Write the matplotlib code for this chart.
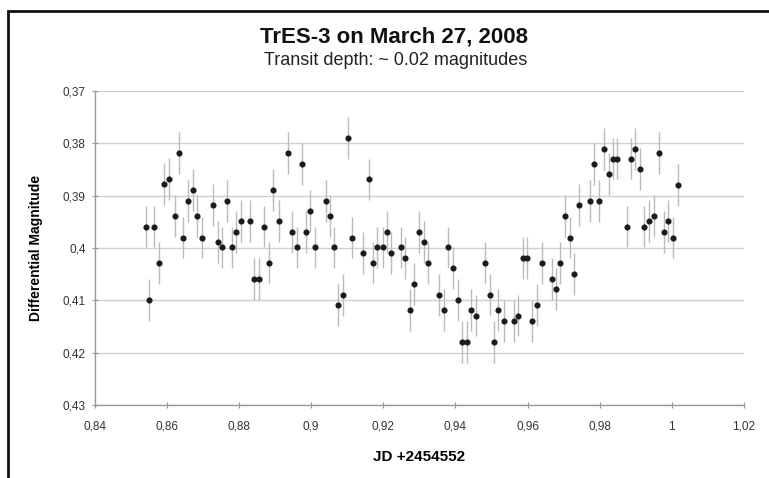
import numpy as np
import matplotlib.pyplot as plt
from matplotlib.patches import Rectangle
from matplotlib.ticker import FuncFormatter

plt.rcParams["font.family"] = ["Liberation Sans", "DejaVu Sans"]

# Data (JD - 2454552, differential magnitude)
jd = [0.8541, 0.8551, 0.8564, 0.8577, 0.8593, 0.8606, 0.8623, 0.8634, 0.8646, 0.8658,
      0.8672, 0.8683, 0.8697, 0.8728, 0.8742, 0.8754, 0.8767, 0.8781, 0.8793, 0.8805,
      0.8831, 0.8842, 0.8855, 0.8869, 0.8882, 0.8895, 0.8910, 0.8935, 0.8948, 0.8962,
      0.8974, 0.8986, 0.8998, 0.9010, 0.9040, 0.9052, 0.9064, 0.9075, 0.9089, 0.9102,
      0.9113, 0.9145, 0.9160, 0.9172, 0.9183, 0.9198, 0.9210, 0.9222, 0.9248, 0.9259,
      0.9273, 0.9286, 0.9298, 0.9312, 0.9325, 0.9355, 0.9367, 0.9379, 0.9394, 0.9406,
      0.9418, 0.9431, 0.9443, 0.9457, 0.9481, 0.9495, 0.9506, 0.9519, 0.9534, 0.9562,
      0.9574, 0.9587, 0.9599, 0.9612, 0.9625, 0.9641, 0.9667, 0.9678, 0.9690, 0.9703,
      0.9717, 0.9730, 0.9743, 0.9772, 0.9785, 0.9797, 0.9812, 0.9825, 0.9837, 0.9849,
      0.9875, 0.9887, 0.9899, 0.9911, 0.9924, 0.9937, 0.9951, 0.9964, 0.9979, 0.9990,
      1.0003, 1.0016]
mag = [0.3959, 0.4099, 0.3959, 0.4029, 0.3878, 0.3868, 0.3939, 0.3819, 0.3980, 0.3910,
       0.3889, 0.3939, 0.3980, 0.3918, 0.3989, 0.3999, 0.3910, 0.3999, 0.3970, 0.3949,
       0.3949, 0.4059, 0.4059, 0.3959, 0.4029, 0.3889, 0.3949, 0.3819, 0.3970, 0.3999,
       0.3839, 0.3970, 0.3929, 0.3999, 0.3910, 0.3939, 0.3999, 0.4109, 0.4090, 0.3789,
       0.3980, 0.4009, 0.3869, 0.4029, 0.3999, 0.3999, 0.3970, 0.4009, 0.3999, 0.4019,
       0.4119, 0.4069, 0.3970, 0.3989, 0.4029, 0.4090, 0.4119, 0.3999, 0.4039, 0.4099,
       0.4179, 0.4179, 0.4119, 0.4129, 0.4029, 0.4090, 0.4179, 0.4119, 0.4139, 0.4139,
       0.4129, 0.4019, 0.4019, 0.4139, 0.4109, 0.4029, 0.4059, 0.4079, 0.4029, 0.3939,
       0.3980, 0.4049, 0.3918, 0.3910, 0.3839, 0.3910, 0.3810, 0.3859, 0.3829, 0.3829,
       0.3959, 0.3829, 0.3810, 0.3849, 0.3959, 0.3949, 0.3939, 0.3819, 0.3970, 0.3949,
       0.3980, 0.3879]
err = [0.004] * len(jd)

xticks = [0.84, 0.86, 0.88, 0.90, 0.92, 0.94, 0.96, 0.98, 1.00, 1.02]
yticks = [0.37, 0.38, 0.39, 0.40, 0.41, 0.42, 0.43]


def excel_fmt(v, pos):
    s = ("%.2f" % v).rstrip("0").rstrip(".")
    return s.replace(".", ",")


fig = plt.figure(figsize=(7.69, 4.78), dpi=100)
fig.patch.set_facecolor("white")
ax = fig.add_axes([0.1231, 0.1527, 0.8444, 0.6569])

ax.errorbar(jd, mag, yerr=err, fmt="o", ms=3.4, mfc="#1a1a1a", mec="#1a1a1a",
            ecolor="#bbbbbb", elinewidth=1.0, capsize=0, zorder=3)

ax.set_xlim(0.84, 1.02)
ax.set_ylim(0.43, 0.37)
ax.set_xticks(xticks)
ax.set_yticks(yticks)
ax.xaxis.set_major_formatter(FuncFormatter(excel_fmt))
ax.yaxis.set_major_formatter(FuncFormatter(excel_fmt))
ax.tick_params(axis="both", direction="inout", length=5, width=0.8, color="#999999",
               labelsize=8.5, labelcolor="#333333", pad=4)
ax.tick_params(axis="x", pad=9)

ax.grid(True, axis="y", color="#d0d0d0", lw=1.0)
ax.set_axisbelow(True)
for side in ["top", "right"]:
    ax.spines[side].set_visible(False)
for side in ["left", "bottom"]:
    ax.spines[side].set_color("#999999")
    ax.spines[side].set_linewidth(1.0)

ax.set_xlabel("JD +2454552", fontsize=11, fontweight="bold", labelpad=12)
ax.set_ylabel("Differential Magnitude", fontsize=10, fontweight="bold", labelpad=14)

fig.text(0.512, 0.922, "TrES-3 on March 27, 2008", ha="center", va="center",
         fontsize=16, fontweight="bold", color="#111111")
fig.text(0.514, 0.874, "Transit depth: ~ 0.02 magnitudes", ha="center", va="center",
         fontsize=13, color="#222222")

# outer chart border (top and left visible)
fig.patches.append(Rectangle((0.0104, -0.1), 1.2, 1.077, transform=fig.transFigure,
                             fill=False, ec="#111111", lw=2.0))

plt.savefig("out.png", dpi=100, facecolor="white")
